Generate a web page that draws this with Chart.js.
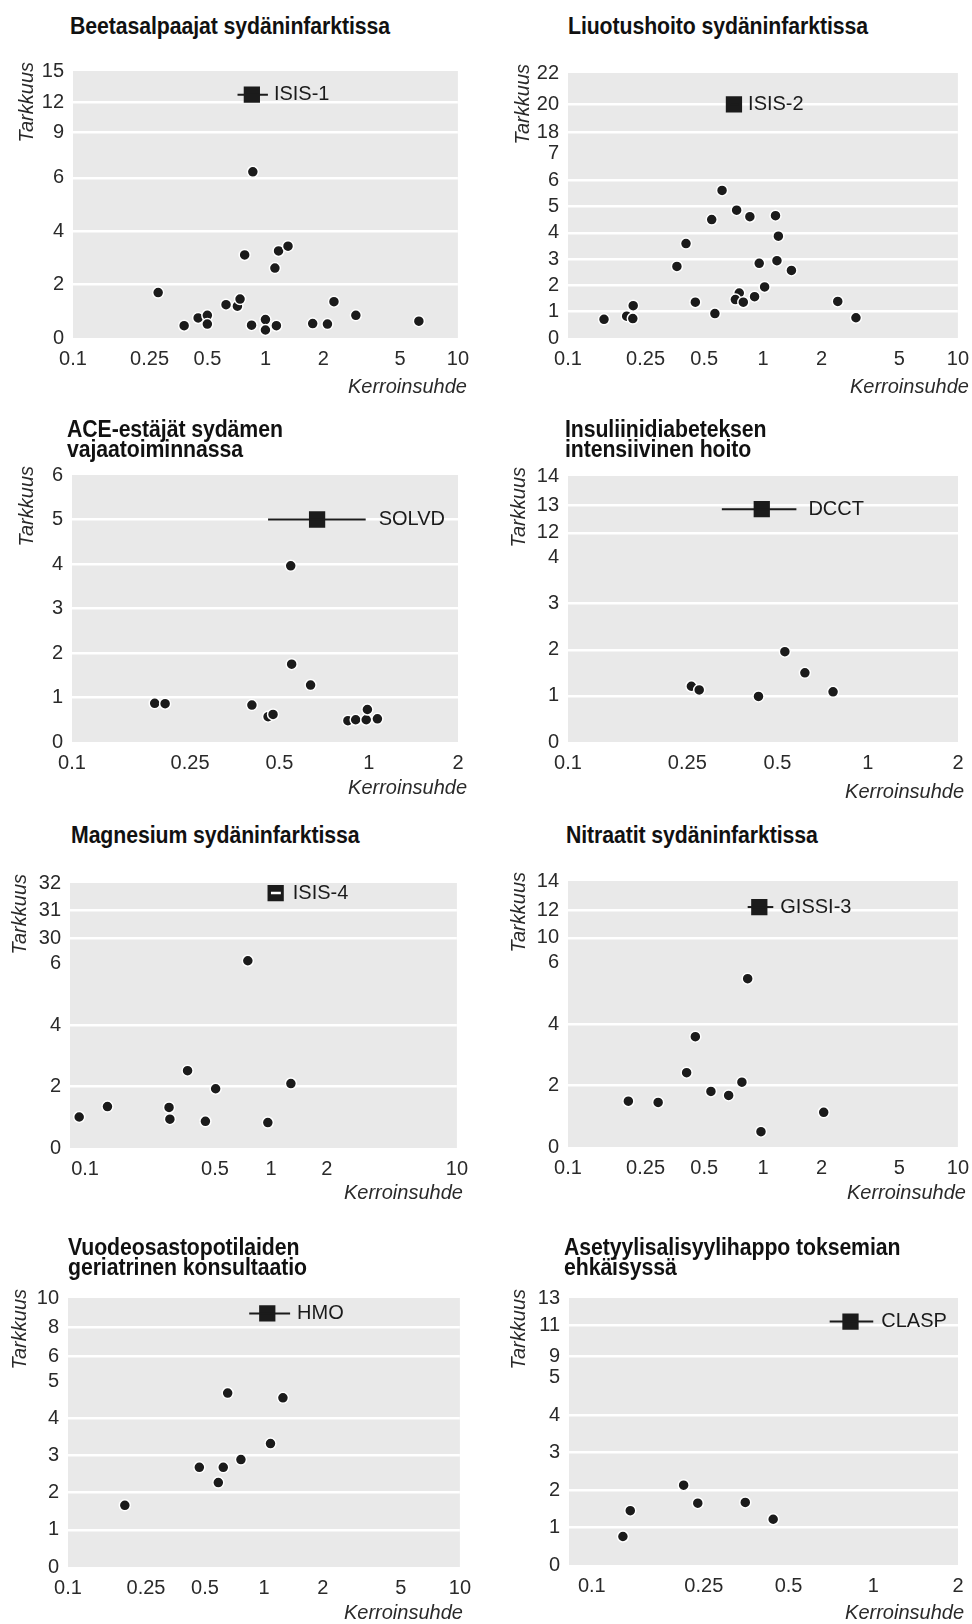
<!DOCTYPE html>
<html lang="fi">
<head>
<meta charset="utf-8">
<title>Kerroinsuhde ja tarkkuus</title>
<script src="https://cdn.jsdelivr.net/npm/chart.js"></script>
<style>
html,body{margin:0;padding:0;background:#fff}
body{position:relative;width:972px;height:1624px;overflow:hidden}
canvas{position:absolute;display:block}
.ttl{position:absolute;font:bold 23px/20px "Liberation Sans",Arial,Helvetica,sans-serif;color:#111;white-space:pre;z-index:2;transform:scaleX(0.925);transform-origin:0 0;letter-spacing:-0.1px}
</style>
</head>
<body>
<script>
// ---------------- DATA ----------------
const panelTitles = [
  'Beetasalpaajat sydäninfarktissa',
  'Liuotushoito sydäninfarktissa',
  'ACE-estäjät sydämen\nvajaatoiminnassa',
  'Insuliinidiabeteksen\nintensiivinen hoito',
  'Magnesium sydäninfarktissa',
  'Nitraatit sydäninfarktissa',
  'Vuodeosastopotilaiden\ngeriatrinen konsultaatio',
  'Asetyylisalisyylihappo toksemian\nehkäisyssä'
];
const xAxisTitle = 'Kerroinsuhde';
const yAxisTitle = 'Tarkkuus';

const xTicksWide = [0.1, 0.25, 0.5, 1, 2, 5, 10];
const xTicksNarrow = [0.1, 0.25, 0.5, 1, 2];
const xTicksMagnesium = [0.1, 0.5, 1, 2, 10];

const yTicksBeeta = [0, 2, 4, 6, 9, 12, 15];
const yTicksLiuotus = [0, 1, 2, 3, 4, 5, 6, 7, 18, 20, 22];
const yTicksAce = [0, 1, 2, 3, 4, 5, 6];
const yTicksInsuliini = [0, 1, 2, 3, 4, 12, 13, 14];
const yTicksMagnesium = [0, 2, 4, 6, 30, 31, 32];
const yTicksNitraatit = [0, 2, 4, 6, 10, 12, 14];
const yTicksGeriatria = [0, 1, 2, 3, 4, 5, 6, 8, 10];
const yTicksAsa = [0, 1, 2, 3, 4, 5, 9, 11, 13];

// small trials: odds ratio (x) and precision (y)
const beetaOR   = [0.86, 0.277, 0.78, 1.17, 1.31, 1.12, 0.378, 0.447, 0.499, 0.499, 0.624, 0.715, 0.738, 0.847, 1.0, 1.0, 1.14, 1.76, 2.10, 2.27, 2.95, 6.27];
const beetaPrec = [6.4, 1.70, 3.11, 3.26, 3.44, 2.62, 0.46, 0.75, 0.85, 0.52, 1.25, 1.19, 1.46, 0.48, 0.69, 0.30, 0.46, 0.54, 0.52, 1.36, 0.85, 0.63];

const liuotusOR   = [0.153, 0.200, 0.215, 0.216, 0.362, 0.403, 0.450, 0.546, 0.567, 0.617, 0.733, 0.756, 0.722, 0.793, 0.857, 0.906, 0.957, 1.02, 1.16, 1.20, 1.18, 1.40, 2.42, 3.0];
const liuotusPrec = [0.71, 0.83, 0.74, 1.23, 2.72, 3.59, 1.36, 4.50, 0.93, 5.61, 4.86, 1.71, 1.46, 1.36, 4.61, 1.57, 2.84, 1.94, 4.65, 3.87, 2.94, 2.57, 1.39, 0.77];

const aceOR   = [0.19, 0.206, 0.404, 0.458, 0.476, 0.546, 0.55, 0.637, 0.851, 0.904, 0.981, 0.99, 1.07];
const acePrec = [0.87, 0.86, 0.83, 0.57, 0.62, 3.96, 1.75, 1.28, 0.48, 0.50, 0.50, 0.73, 0.52];

const insuliiniOR   = [0.258, 0.274, 0.432, 0.529, 0.617, 0.766];
const insuliiniPrec = [1.21, 1.13, 0.99, 1.96, 1.50, 1.09];

const magnesiumOR   = [0.093, 0.132, 0.283, 0.286, 0.356, 0.444, 0.504, 0.751, 0.962, 1.28];
const magnesiumPrec = [1.01, 1.35, 1.32, 0.94, 2.52, 0.87, 1.93, 6.1, 0.83, 2.10];

const nitraatitOR   = [0.204, 0.290, 0.406, 0.450, 0.541, 0.667, 0.780, 0.835, 0.977, 2.05];
const nitraatitPrec = [1.49, 1.45, 2.42, 3.59, 1.81, 1.68, 2.11, 5.48, 0.50, 1.13];

const geriatriaOR   = [0.195, 0.468, 0.585, 0.620, 0.763, 0.653, 1.08, 1.25];
const geriatriaPrec = [1.66, 2.68, 2.27, 2.68, 2.89, 4.68, 3.32, 4.55];

const asaOR   = [0.129, 0.137, 0.212, 0.238, 0.351, 0.441];
const asaPrec = [0.76, 1.45, 2.13, 1.65, 1.67, 1.22];

// large trials
const trialNames = ['ISIS-1', 'ISIS-2', 'SOLVD', 'DCCT', 'ISIS-4', 'GISSI-3', 'HMO', 'CLASP'];
const trialOR    = [0.85, 0.71, 0.67, 0.443, 1.06, 0.958, 1.04, 0.83];
const trialLow   = [0.716, 0.68, 0.458, 0.326, 1.00, 0.835, 0.841, 0.70];
const trialHigh  = [1.03, 0.75, 0.977, 0.578, 1.13, 1.13, 1.36, 1.00];
const trialPrec  = [12.72, 20.0, 5.0, 12.86, 31.63, 12.22, 8.94, 11.29];

// ---------------- PANEL WIRING ----------------
const panels = [
  {xTicks: xTicksWide,      yTicks: yTicksBeeta,     or: beetaOR,     prec: beetaPrec},
  {xTicks: xTicksWide,      yTicks: yTicksLiuotus,   or: liuotusOR,   prec: liuotusPrec},
  {xTicks: xTicksNarrow,    yTicks: yTicksAce,       or: aceOR,       prec: acePrec},
  {xTicks: xTicksNarrow,    yTicks: yTicksInsuliini, or: insuliiniOR, prec: insuliiniPrec},
  {xTicks: xTicksMagnesium, yTicks: yTicksMagnesium, or: magnesiumOR, prec: magnesiumPrec},
  {xTicks: xTicksWide,      yTicks: yTicksNitraatit, or: nitraatitOR, prec: nitraatitPrec},
  {xTicks: xTicksWide,      yTicks: yTicksGeriatria, or: geriatriaOR, prec: geriatriaPrec},
  {xTicks: xTicksNarrow,    yTicks: yTicksAsa,       or: asaOR,       prec: asaPrec}
];

// ---------------- LAYOUT / STYLE ----------------
const panelLayout = [
  {area:{l:73,t:65,r:458,b:338},    xMin:0.1,   xMax:10, breaks:[[0,0],[6,0.6],[9,0.769],[12,0.883],[15,1]],          white:[2,4,6,9,12],   yTitleDx:46, xTitleDx:9,  xTitleDy:49, labelGap:6,  titleX:70,  titleY:16},
  {area:{l:568,t:67,r:958,b:338},   xMin:0.1,   xMax:10, breaks:[[0,0],[7,0.695],[18,0.775],[20,0.882],[22,1]],        white:[1,2,3,4,5,6,18,20], yTitleDx:45, xTitleDx:11, xTitleDy:49, labelGap:6, titleX:568, titleY:16},
  {area:{l:72,t:469,r:458,b:742},   xMin:0.1,   xMax:2,  breaks:[[0,0],[6,1]],                                        white:[1,2,3,4,5],    yTitleDx:45, xTitleDx:9,  xTitleDy:46, labelGap:13, titleX:67,  titleY:419},
  {area:{l:568,t:470,r:958,b:742},  xMin:0.1,   xMax:2,  breaks:[[0,0],[4,0.693],[12,0.786],[13,0.890],[14,1]],        white:[1,2,3,12,13],  yTitleDx:49, xTitleDx:6,  xTitleDy:50, labelGap:12, titleX:565, titleY:419},
  {area:{l:70,t:877,r:457,b:1148},  xMin:0.083, xMax:10, breaks:[[0,0],[6.5,0.753],[30,0.79],[31,0.897],[32,1]],       white:[2,4,30,31],    yTitleDx:50, xTitleDx:6,  xTitleDy:45, labelGap:9,  titleX:71,  titleY:825},
  {area:{l:568,t:875,r:958,b:1147}, xMin:0.1,   xMax:10, breaks:[[0,0],[6,0.693],[10,0.786],[12,0.890],[14,1]],        white:[2,4,10,12],    yTitleDx:49, xTitleDx:8,  xTitleDy:46, labelGap:7,  titleX:566, titleY:825},
  {area:{l:68,t:1292,r:460,b:1567}, xMin:0.1,   xMax:10, breaks:[[0,0],[5,0.691],[6,0.783],[8,0.892],[10,1]],          white:[1,2,3,4,6,8],  yTitleDx:48, xTitleDx:3,  xTitleDy:46, labelGap:7,  titleX:68,  titleY:1237},
  {area:{l:569,t:1292,r:958,b:1565},xMin:0.083, xMax:2,  breaks:[[0,0],[5,0.702],[9,0.781],[11,0.897],[13,1]],         white:[1,2,3,4,9,11], yTitleDx:50, xTitleDx:6,  xTitleDy:48, labelGap:8,  titleX:564, titleY:1237}
];

const FONT = '"Liberation Sans", Arial, Helvetica, sans-serif';
const INK = '#1b1b1b';
const TICK_INK = '#2a2a2a';
const PLOT_BG = '#e9e9e9';
const SQ_R = 11.5;         // square marker radius (side = 1.414*r)

// ---------------- BROKEN (piecewise linear) Y SCALE ----------------
class BrokenScale extends Chart.LinearScale {
  determineDataLimits() {
    const b = this.options.breaks;
    this.min = b[0][0];
    this.max = b[b.length - 1][0];
  }
  buildTicks() {
    return this.options.tickValues.map(v => ({value: v}));
  }
  _frac(v) {
    const b = this.options.breaks;
    if (v <= b[0][0]) return b[0][1];
    for (let k = 1; k < b.length; k++) {
      if (v <= b[k][0]) {
        const [v0, f0] = b[k - 1], [v1, f1] = b[k];
        return f0 + (v - v0) / (v1 - v0) * (f1 - f0);
      }
    }
    return b[b.length - 1][1];
  }
  getPixelForValue(v) {
    return this.getPixelForDecimal(this._frac(v));
  }
  getValueForPixel(p) {
    const f = this.getDecimalForPixel(p);
    const b = this.options.breaks;
    for (let k = 1; k < b.length; k++) {
      if (f <= b[k][1]) {
        const [v0, f0] = b[k - 1], [v1, f1] = b[k];
        return v0 + (f - f0) / (f1 - f0) * (v1 - v0);
      }
    }
    return b[b.length - 1][0];
  }
}
BrokenScale.id = 'broken';
BrokenScale.defaults = {};
Chart.register(BrokenScale);

function decoPlugin(i) {
  const L = panelLayout[i];
  return {
    id: 'deco' + i,
    beforeDraw(chart) {
      const {ctx, chartArea: ca} = chart;
      ctx.save();
      ctx.fillStyle = PLOT_BG;
      ctx.fillRect(ca.left, ca.top, ca.right - ca.left, ca.bottom - ca.top);
      ctx.restore();
    },
    afterDraw(chart) {
      const {ctx, chartArea: ca, scales} = chart;
      const sx = scales.x, sy = scales.y;
      ctx.save();
      ctx.fillStyle = INK;
      // trial label
      const right = Math.max(sx.getPixelForValue(trialHigh[i]), sx.getPixelForValue(trialOR[i]) + SQ_R * Math.SQRT1_2);
      ctx.font = '20px ' + FONT;
      ctx.textAlign = 'left';
      ctx.textBaseline = 'middle';
      ctx.fillText(trialNames[i], right + L.labelGap, sy.getPixelForValue(trialPrec[i]));
      // x title
      ctx.fillStyle = TICK_INK;
      ctx.font = 'italic 20px ' + FONT;
      ctx.textAlign = 'right';
      ctx.fillText(xAxisTitle, ca.right + L.xTitleDx, ca.bottom + L.xTitleDy);
      // y title
      ctx.translate(ca.left - L.yTitleDx, ca.top - 9);
      ctx.rotate(-Math.PI / 2);
      ctx.textAlign = 'right';
      ctx.fillText(yAxisTitle, 0, 0);
      ctx.restore();
    }
  };
}

panels.forEach((p, i) => {
  const L = panelLayout[i];
  const a = L.area;
  const yW = 68, padT = 15, padR = 20, xH = 62;
  const cw = (a.r - a.l) + yW + padR, ch = (a.b - a.t) + padT + xH;

  const t = document.createElement('div');
  t.className = 'ttl';
  t.style.left = L.titleX + 'px';
  t.style.top = L.titleY + 'px';
  t.textContent = panelTitles[i];
  document.body.appendChild(t);

  const cv = document.createElement('canvas');
  cv.width = cw; cv.height = ch;
  cv.style.left = (a.l - yW) + 'px';
  cv.style.top = (a.t - padT) + 'px';
  cv.style.width = cw + 'px';
  cv.style.height = ch + 'px';
  document.body.appendChild(cv);

  const dots = p.or.map((x, k) => ({x: x, y: p.prec[k]}));
  const isWhiteCI = trialNames[i] === 'ISIS-4';

  new Chart(cv, {
    type: 'scatter',
    data: {
      datasets: [
        {
          data: [{x: trialLow[i], y: trialPrec[i]}, {x: trialHigh[i], y: trialPrec[i]}],
          showLine: true,
          borderColor: isWhiteCI ? '#ffffff' : INK,
          borderWidth: isWhiteCI ? 2.5 : 2,
          pointRadius: 0,
          order: 0
        },
        {
          data: [{x: trialOR[i], y: trialPrec[i]}],
          pointStyle: 'rect',
          pointRadius: SQ_R,
          backgroundColor: INK,
          borderWidth: 0,
          order: 1
        },
        {
          data: dots,
          pointStyle: 'circle',
          pointRadius: 5.5,
          backgroundColor: INK,
          borderColor: '#ffffff',
          borderWidth: 1.5,
          order: 2
        }
      ]
    },
    options: {
      responsive: false,
      animation: false,
      devicePixelRatio: 1,
      events: [],
      layout: {padding: {left: 0, top: padT, right: padR, bottom: 0}},
      plugins: {legend: {display: false}, tooltip: {enabled: false}, title: {display: false}},
      scales: {
        x: {
          type: 'logarithmic',
          min: L.xMin,
          max: L.xMax,
          afterBuildTicks: s => { s.ticks = p.xTicks.map(v => ({value: v})); },
          afterFit: s => { s.height = xH; },
          ticks: {
            autoSkip: false, maxRotation: 0, minRotation: 0, padding: 9,
            color: TICK_INK, font: {family: FONT, size: 20},
            callback: (v, k) => String(p.xTicks[k])
          },
          grid: {display: false, drawTicks: false},
          border: {display: false}
        },
        y: {
          type: 'broken',
          breaks: L.breaks,
          tickValues: p.yTicks,
          afterFit: s => { s.width = yW; },
          ticks: {
            autoSkip: false, padding: 9,
            color: TICK_INK, font: {family: FONT, size: 20},
            callback: (v, k) => String(p.yTicks[k])
          },
          grid: {
            drawTicks: false,
            lineWidth: 2.5,
            color: c => (c.tick && L.white.includes(c.tick.value)) ? '#ffffff' : 'rgba(0,0,0,0)'
          },
          border: {display: false}
        }
      }
    },
    plugins: [decoPlugin(i)]
  });
});
</script>
</body>
</html>
